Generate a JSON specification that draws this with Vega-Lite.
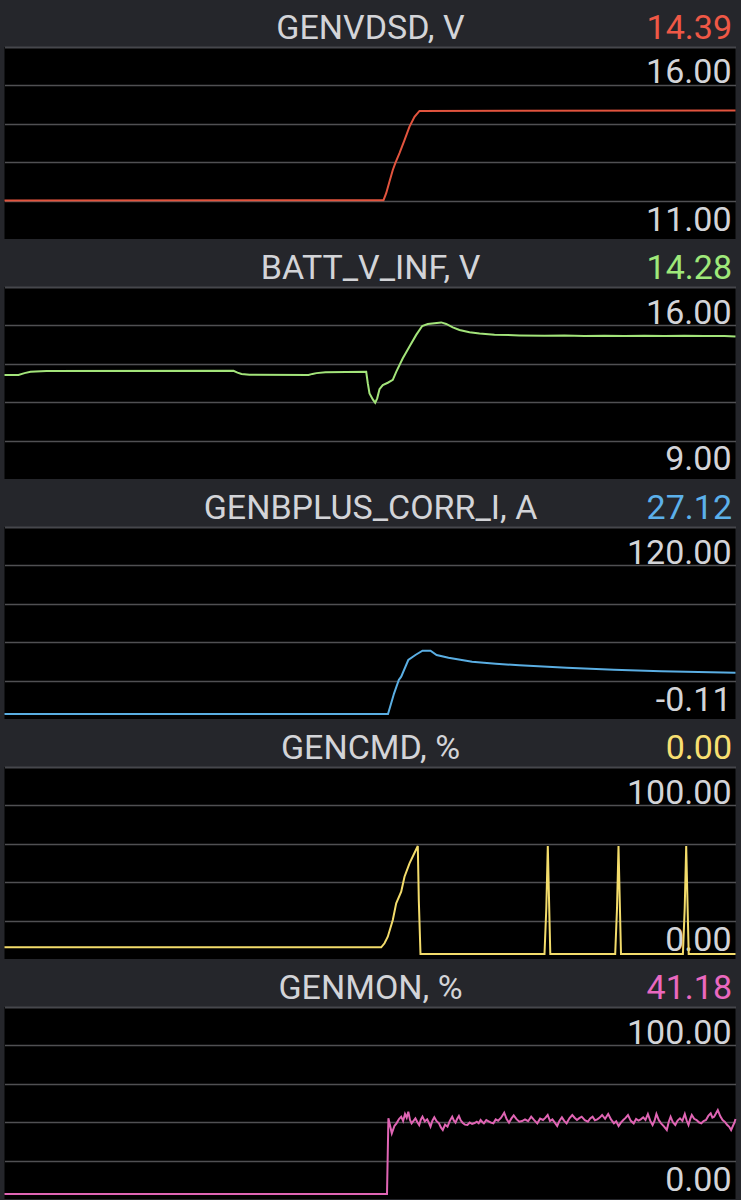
{
  "$schema": "https://vega.github.io/schema/vega-lite/v6.json",
  "padding": {"top": 11, "left": 0.5, "right": 5, "bottom": 1},
  "spacing": 48,
  "bounds": "flush",
  "vconcat": [
    {
      "width": 731, "height": 192,
      "data": {"values": [
        {"t":0,"v":11.92},{"t":379,"v":11.93},{"t":381.7,"v":12.12},{"t":385,"v":12.44},{"t":388.3,"v":12.76},{"t":391,"v":12.96},{"t":395,"v":13.22},{"t":400,"v":13.58},{"t":405,"v":13.95},{"t":410,"v":14.22},{"t":415,"v":14.38},{"t":731,"v":14.39}
      ]},
      "mark": {"type": "line", "color": "#e2543e", "strokeWidth": 2},
      "encoding": {
        "x": {"field": "t", "type": "quantitative", "scale": {"domain": [0, 731], "nice": false, "zero": false},
          "axis": {"orient": "top", "grid": false, "values": [731], "labelExpr": "'14.39'", "labelColor": "#ef5846", "title": "GENVDSD, V", "titleX": 365.5, "titleY": -9, "titleAlign": "center", "titleBaseline": "alphabetic"}},
        "y": {"field": "v", "type": "quantitative", "scale": {"domain": [10.86264, 16.13736], "nice": false, "zero": false},
          "axis": {"orient": "right", "title": null, "values": [11, 11.9176, 12.9725, 14.0275, 15.0824, 16],
            "labelExpr": "datum.value == 11 || datum.value == 16 ? replace(format(datum.value, '.2f'), '\u2212', '-') : ''",
            "gridOpacity": {"condition": {"test": "datum.value == 11 || datum.value == 16", "value": 0}, "value": 1},
            "labelOffset": {"condition": {"test": "datum.value == 16", "value": 31}, "value": -4}}}
      }
    },
    {
      "width": 731, "height": 192,
      "data": {"values": [
        {"t":0,"v":12.81},{"t":14,"v":12.81},{"t":20,"v":12.88},{"t":26,"v":12.93},{"t":42,"v":12.96},{"t":229,"v":12.97},{"t":233,"v":12.9},{"t":237,"v":12.85},{"t":245,"v":12.82},{"t":304,"v":12.81},{"t":308,"v":12.85},{"t":312,"v":12.88},{"t":321,"v":12.91},{"t":361.7,"v":12.93},{"t":363.3,"v":12.49},{"t":365,"v":12.10},{"t":368.3,"v":11.87},{"t":370.7,"v":11.74},{"t":372.7,"v":11.91},{"t":375,"v":12.26},{"t":378.3,"v":12.42},{"t":383.3,"v":12.51},{"t":388.3,"v":12.62},{"t":391.7,"v":12.93},{"t":398.3,"v":13.45},{"t":405,"v":13.90},{"t":411.7,"v":14.35},{"t":417.7,"v":14.69},{"t":423.3,"v":14.77},{"t":430,"v":14.80},{"t":436.7,"v":14.83},{"t":441.7,"v":14.77},{"t":448.3,"v":14.64},{"t":455,"v":14.54},{"t":465,"v":14.45},{"t":475,"v":14.40},{"t":490,"v":14.36},{"t":515,"v":14.33},{"t":540,"v":14.32},{"t":560,"v":14.33},{"t":580,"v":14.31},{"t":600,"v":14.32},{"t":620,"v":14.31},{"t":640,"v":14.32},{"t":660,"v":14.31},{"t":680,"v":14.32},{"t":700,"v":14.31},{"t":720,"v":14.31},{"t":731,"v":14.29}
      ]},
      "mark": {"type": "line", "color": "#a3e47a", "strokeWidth": 2},
      "encoding": {
        "x": {"field": "t", "type": "quantitative", "scale": {"domain": [0, 731], "nice": false, "zero": false},
          "axis": {"orient": "top", "grid": false, "values": [731], "labelExpr": "'14.28'", "labelColor": "#9fe87a", "title": "BATT_V_INF, V", "titleX": 365.5, "titleY": -9, "titleAlign": "center", "titleBaseline": "alphabetic"}},
        "y": {"field": "v", "type": "quantitative", "scale": {"domain": [8.80769, 16.19231], "nice": false, "zero": false},
          "axis": {"orient": "right", "title": null, "values": [9, 10.2846, 11.7615, 13.2385, 14.7154, 16],
            "labelExpr": "datum.value == 9 || datum.value == 16 ? replace(format(datum.value, '.2f'), '\u2212', '-') : ''",
            "gridOpacity": {"condition": {"test": "datum.value == 9 || datum.value == 16", "value": 0}, "value": 1},
            "labelOffset": {"condition": {"test": "datum.value == 16", "value": 31}, "value": -4}}}
      }
    },
    {
      "width": 731, "height": 192,
      "data": {"values": [
        {"t":0,"v":-0.11},{"t":383.5,"v":-0.11},{"t":389.6,"v":13.55},{"t":394.3,"v":22.33},{"t":396.7,"v":24.5},{"t":403.8,"v":35.53},{"t":410.9,"v":38.83},{"t":418,"v":41.66},{"t":426,"v":41.66},{"t":432.1,"v":38.83},{"t":444,"v":37.04},{"t":467.6,"v":34.4},{"t":491.2,"v":33.08},{"t":514.8,"v":32.03},{"t":562.1,"v":30.44},{"t":609.4,"v":29.12},{"t":656.6,"v":28.07},{"t":731,"v":27.12}
      ]},
      "mark": {"type": "line", "color": "#5aaee3", "strokeWidth": 2},
      "encoding": {
        "x": {"field": "t", "type": "quantitative", "scale": {"domain": [0, 731], "nice": false, "zero": false},
          "axis": {"orient": "top", "grid": false, "values": [731], "labelExpr": "'27.12'", "labelColor": "#5cb0ea", "title": "GENBPLUS_CORR_I, A", "titleX": 365.5, "titleY": -9, "titleAlign": "center", "titleBaseline": "alphabetic"}},
        "y": {"field": "v", "type": "quantitative", "scale": {"domain": [-3.40973, 123.29973], "nice": false, "zero": false},
          "axis": {"orient": "right", "title": null, "values": [-0.11, 21.9322, 47.2741, 72.6159, 97.9578, 120],
            "labelExpr": "datum.value == -0.11 || datum.value == 120 ? replace(format(datum.value, '.2f'), '\u2212', '-') : ''",
            "gridOpacity": {"condition": {"test": "datum.value == -0.11 || datum.value == 120", "value": 0}, "value": 1},
            "labelOffset": {"condition": {"test": "datum.value == 120", "value": 31}, "value": -4}}}
      }
    },
    {
      "width": 731, "height": 192,
      "data": {"values": [
        {"t":0,"v":3.68},{"t":376.7,"v":3.68},{"t":380,"v":5.88},{"t":383.3,"v":9.51},{"t":388.3,"v":18.68},{"t":391.7,"v":27.86},{"t":396.7,"v":34.23},{"t":400,"v":42.47},{"t":405,"v":49.84},{"t":413.3,"v":59.34},{"t":414.3,"v":29.67},{"t":416,"v":0},{"t":540,"v":0},{"t":541.8,"v":25},{"t":543.3,"v":59.3},{"t":544.1,"v":40},{"t":545.8,"v":0},{"t":610.7,"v":0},{"t":612.5,"v":25},{"t":614,"v":59.3},{"t":614.8,"v":40},{"t":616.5,"v":0},{"t":678.4,"v":0},{"t":680.2,"v":25},{"t":681.7,"v":59.3},{"t":682.5,"v":40},{"t":684.2,"v":0},{"t":731,"v":0}
      ]},
      "mark": {"type": "line", "color": "#f3dc6b", "strokeWidth": 2},
      "encoding": {
        "x": {"field": "t", "type": "quantitative", "scale": {"domain": [0, 731], "nice": false, "zero": false},
          "axis": {"orient": "top", "grid": false, "values": [731], "labelExpr": "'0.00'", "labelColor": "#f7df71", "title": "GENCMD, %", "titleX": 365.5, "titleY": -9, "titleAlign": "center", "titleBaseline": "alphabetic"}},
        "y": {"field": "v", "type": "quantitative", "scale": {"domain": [-2.74725, 102.74725], "nice": false, "zero": false},
          "axis": {"orient": "right", "title": null, "values": [0, 18.3516, 39.4505, 60.5495, 81.6484, 100],
            "labelExpr": "datum.value == 0 || datum.value == 100 ? replace(format(datum.value, '.2f'), '\u2212', '-') : ''",
            "gridOpacity": {"condition": {"test": "datum.value == 0 || datum.value == 100", "value": 0}, "value": 1},
            "labelOffset": {"condition": {"test": "datum.value == 100", "value": 31}, "value": -4}}}
      }
    },
    {
      "width": 731, "height": 192,
      "data": {"values": [
        {"t":0,"v":0},{"t":382.5,"v":0},{"t":383.9,"v":41.57},{"t":387.3,"v":33.33},{"t":390,"v":37.5},{"t":392,"v":38.83},{"t":394.5,"v":41.2},{"t":396.7,"v":42.49},{"t":398.6,"v":40.1},{"t":400.5,"v":43.96},{"t":402.2,"v":41.9},{"t":403.8,"v":45.24},{"t":405.5,"v":40.7},{"t":407.1,"v":38.83},{"t":409,"v":40.2},{"t":410.9,"v":41.57},{"t":412.8,"v":39.6},{"t":414.7,"v":37.91},{"t":416.3,"v":40.8},{"t":418,"v":42.49},{"t":420.3,"v":39.9},{"t":422.7,"v":41.03},{"t":424.3,"v":39.2},{"t":426,"v":37.0},{"t":427.9,"v":40.3},{"t":429.8,"v":42.12},{"t":432.1,"v":40.0},{"t":434.5,"v":38.83},{"t":436.4,"v":36.6},{"t":438.3,"v":35.17},{"t":440.6,"v":38.1},{"t":443,"v":37.0},{"t":445.3,"v":40.2},{"t":447.7,"v":42.49},{"t":449.3,"v":40.4},{"t":451,"v":39.19},{"t":452.7,"v":41.3},{"t":454.4,"v":42.86},{"t":456.2,"v":40.5},{"t":458.1,"v":39.19},{"t":460.5,"v":38.1},{"t":462.9,"v":37.91},{"t":465.2,"v":39.3},{"t":467.6,"v":38.46},{"t":470,"v":39.0},{"t":472.3,"v":39.74},{"t":474.2,"v":38.9},{"t":476.1,"v":40.66},{"t":477.8,"v":39.6},{"t":479.4,"v":38.83},{"t":481.8,"v":40.6},{"t":484.1,"v":39.93},{"t":486.5,"v":39.2},{"t":488.9,"v":38.83},{"t":491.2,"v":41.0},{"t":493.6,"v":40.29},{"t":496.6,"v":41.9},{"t":499.7,"v":44.69},{"t":502.1,"v":41.2},{"t":504.5,"v":39.19},{"t":506.8,"v":41.4},{"t":509.2,"v":43.22},{"t":512,"v":41.1},{"t":514.8,"v":39.74},{"t":517.6,"v":40.1},{"t":520.5,"v":41.03},{"t":523.6,"v":40.0},{"t":526.7,"v":42.49},{"t":529.7,"v":40.6},{"t":532.8,"v":38.83},{"t":535.6,"v":41.4},{"t":538.5,"v":40.66},{"t":540.8,"v":41.8},{"t":543.2,"v":43.41},{"t":545.5,"v":40.1},{"t":547.9,"v":41.03},{"t":550.3,"v":39.2},{"t":552.7,"v":37.36},{"t":555,"v":40.3},{"t":557.4,"v":42.12},{"t":559.7,"v":40.2},{"t":562.1,"v":38.83},{"t":564.9,"v":41.6},{"t":567.8,"v":43.41},{"t":570.1,"v":41.9},{"t":572.5,"v":40.66},{"t":574.8,"v":41.7},{"t":577.2,"v":42.49},{"t":580.3,"v":40.6},{"t":583.4,"v":39.74},{"t":585.7,"v":41.5},{"t":588.1,"v":42.49},{"t":590.4,"v":40.5},{"t":592.8,"v":41.03},{"t":595.2,"v":42.0},{"t":597.6,"v":43.41},{"t":600.6,"v":41.3},{"t":603.7,"v":43.96},{"t":606.5,"v":41.0},{"t":609.4,"v":38.83},{"t":611.7,"v":39.9},{"t":614.1,"v":37.36},{"t":616.4,"v":39.2},{"t":618.8,"v":40.66},{"t":621.1,"v":41.8},{"t":623.5,"v":43.41},{"t":626.3,"v":40.2},{"t":629.2,"v":38.83},{"t":631.6,"v":41.2},{"t":634,"v":40.29},{"t":636.3,"v":41.0},{"t":638.7,"v":42.12},{"t":641,"v":40.7},{"t":643.4,"v":43.96},{"t":645.7,"v":40.3},{"t":648.1,"v":37.91},{"t":650,"v":40.1},{"t":651.9,"v":43.96},{"t":654.2,"v":40.7},{"t":656.6,"v":38.83},{"t":659.4,"v":37.2},{"t":662.3,"v":35.17},{"t":664.2,"v":39.6},{"t":666.1,"v":42.49},{"t":668.4,"v":39.4},{"t":670.8,"v":37.91},{"t":673.1,"v":40.3},{"t":675.5,"v":41.57},{"t":677.9,"v":40.2},{"t":680.3,"v":43.96},{"t":682.1,"v":40.5},{"t":684,"v":37.91},{"t":685.6,"v":41.0},{"t":687.3,"v":43.41},{"t":689.7,"v":41.3},{"t":692.1,"v":40.66},{"t":694.4,"v":39.4},{"t":696.8,"v":38.83},{"t":699.1,"v":40.1},{"t":701.5,"v":40.66},{"t":703.8,"v":42.9},{"t":706.2,"v":44.31},{"t":707.9,"v":42.0},{"t":709.6,"v":42.49},{"t":711.4,"v":44.2},{"t":713.3,"v":46.15},{"t":715.7,"v":42.8},{"t":718.1,"v":40.66},{"t":720.4,"v":39.6},{"t":722.8,"v":37.91},{"t":724.7,"v":36.9},{"t":726.6,"v":35.17},{"t":729.9,"v":39.19},{"t":731,"v":41.18}
      ]},
      "mark": {"type": "line", "color": "#e065b4", "strokeWidth": 2},
      "encoding": {
        "x": {"field": "t", "type": "quantitative", "scale": {"domain": [0, 731], "nice": false, "zero": false},
          "axis": {"orient": "top", "grid": false, "values": [731], "labelExpr": "'41.18'", "labelColor": "#ea68bf", "title": "GENMON, %", "titleX": 365.5, "titleY": -9, "titleAlign": "center", "titleBaseline": "alphabetic"}},
        "y": {"field": "v", "type": "quantitative", "scale": {"domain": [-2.74725, 102.74725], "nice": false, "zero": false},
          "axis": {"orient": "right", "title": null, "values": [0, 18.3516, 39.4505, 60.5495, 81.6484, 100],
            "labelExpr": "datum.value == 0 || datum.value == 100 ? replace(format(datum.value, '.2f'), '\u2212', '-') : ''",
            "gridOpacity": {"condition": {"test": "datum.value == 0 || datum.value == 100", "value": 0}, "value": 1},
            "labelOffset": {"condition": {"test": "datum.value == 100", "value": 31}, "value": -4}}}
      }
    }
  ],
  "config": {
    "background": "#25262b",
    "view": {"fill": "#000000", "stroke": null},
    "font": "Roboto",
    "axis": {"ticks": false, "domain": false, "labelFont": "Roboto", "labelFontSize": 34, "labelColor": "#d3d4d8", "titleFont": "Roboto", "titleFontSize": 34, "titleFontWeight": "normal", "titleColor": "#d3d4d8", "labelOverlap": false, "labelFlush": false, "labelBound": false, "gridColor": "#505053", "gridWidth": 1.5},
    "axisTop": {"domain": true, "domainColor": "#46474c", "domainWidth": 2, "labelBaseline": "alphabetic", "labelAlign": "right", "labelPadding": 9, "labelOffset": -4},
    "axisRight": {"labelAlign": "right", "labelPadding": -4.5, "labelBaseline": "alphabetic"}
  }
}
